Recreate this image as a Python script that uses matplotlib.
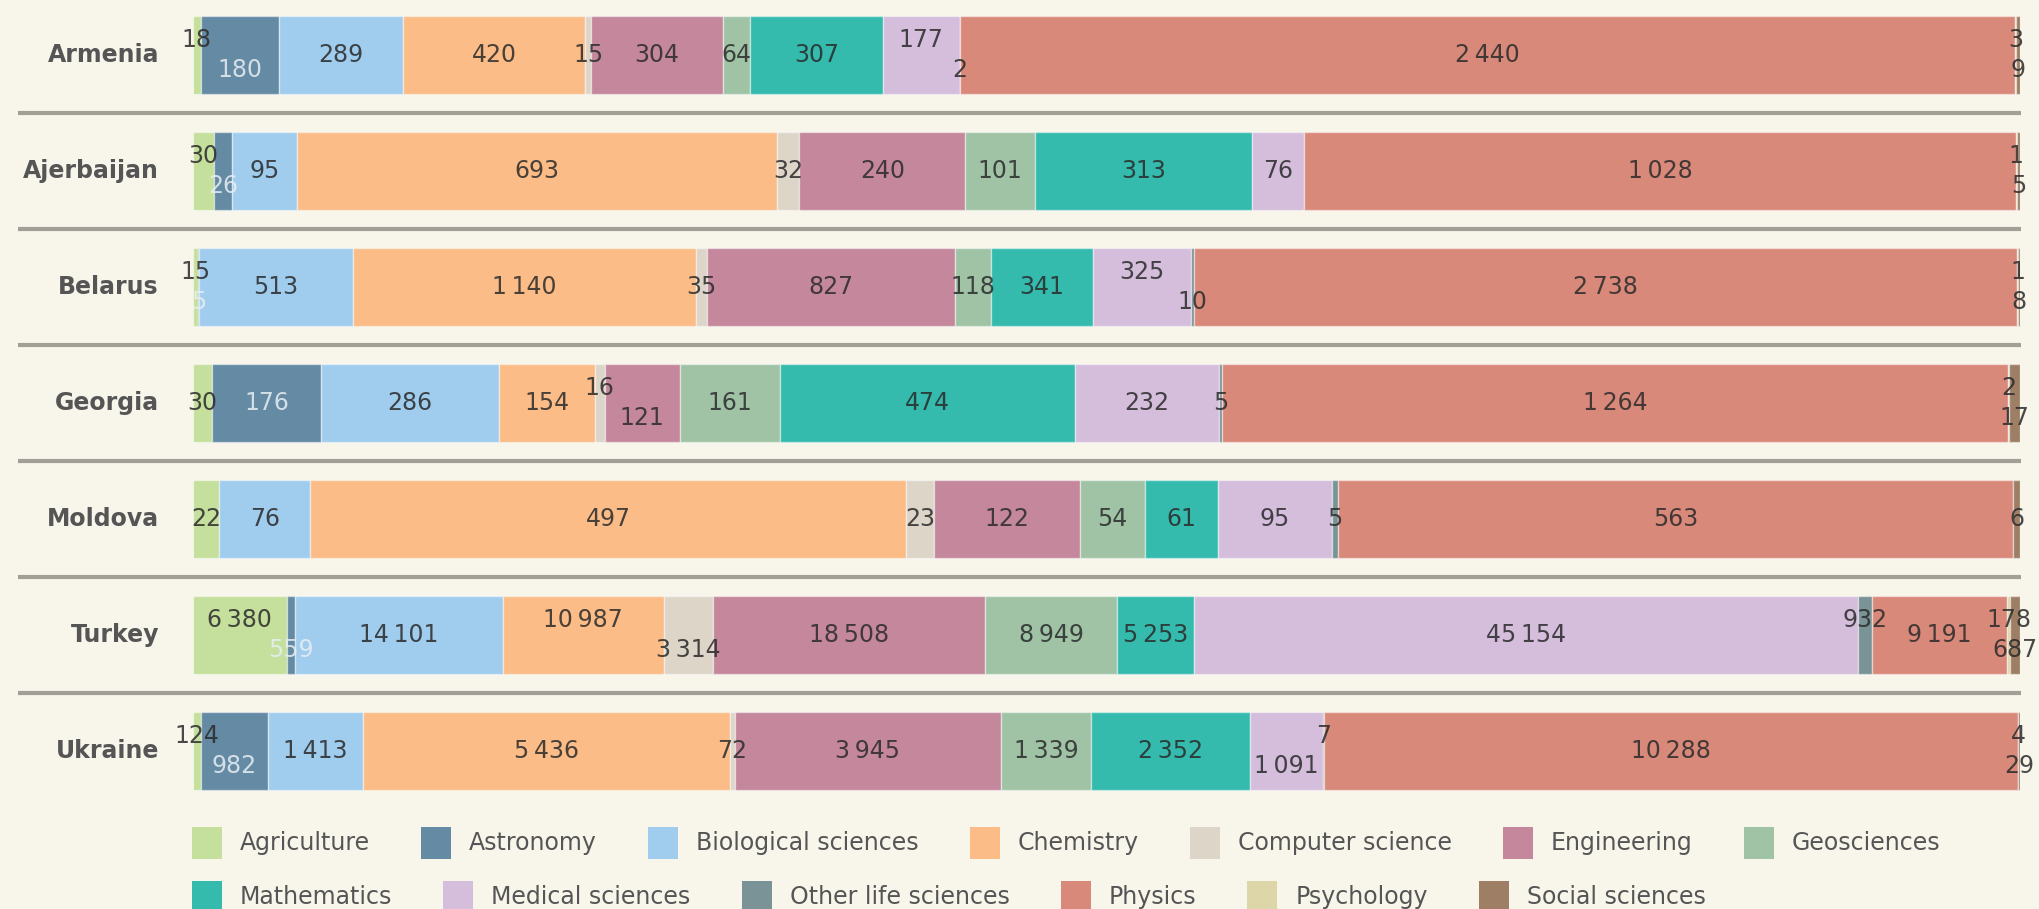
import matplotlib

matplotlib.use("Agg")
import matplotlib.pyplot as plt
import matplotlib.transforms as mtransforms
import numpy as np
from matplotlib.patches import Rectangle


COUNTRIES = ["Armenia", "Ajerbaijan", "Belarus", "Georgia", "Moldova", "Turkey", "Ukraine"]

# values per field, in country order above
AGRICULTURE = [18, 30, 15, 30, 22, 6380, 124]
ASTRONOMY = [180, 26, 5, 176, 0, 559, 982]
BIOLOGICAL = [289, 95, 513, 286, 76, 14101, 1413]
CHEMISTRY = [420, 693, 1140, 154, 497, 10987, 5436]
COMPUTER = [15, 32, 35, 16, 23, 3314, 72]
ENGINEERING = [304, 240, 827, 121, 122, 18508, 3945]
GEOSCIENCES = [64, 101, 118, 161, 54, 8949, 1339]
MATHEMATICS = [307, 313, 341, 474, 61, 5253, 2352]
MEDICAL = [177, 76, 325, 232, 95, 45154, 1091]
OTHER_LIFE = [2, 0, 10, 5, 5, 932, 7]
PHYSICS = [2440, 1028, 2738, 1264, 563, 9191, 10288]
PSYCHOLOGY = [3, 1, 1, 2, 0, 178, 4]
SOCIAL = [9, 5, 8, 17, 6, 687, 29]

FIELD_NAMES = [
    "Agriculture", "Astronomy", "Biological sciences", "Chemistry", "Computer science",
    "Engineering", "Geosciences", "Mathematics", "Medical sciences", "Other life sciences",
    "Physics", "Psychology", "Social sciences",
]

FIELD_COLORS = {
    "Agriculture": "#C5DF9C",
    "Astronomy": "#648AA4",
    "Biological sciences": "#A0CDEE",
    "Chemistry": "#FBBC87",
    "Computer science": "#DCD5C8",
    "Engineering": "#C4879C",
    "Geosciences": "#A0C3A6",
    "Mathematics": "#34BBAD",
    "Medical sciences": "#D4BEDC",
    "Other life sciences": "#7A9396",
    "Physics": "#D9897A",
    "Psychology": "#DDD6A8",
    "Social sciences": "#9E7F65",
}

# hand nudges for crowded labels: +1 = above middle, -1 = below
LABEL_SHIFT = {
    "Armenia": {"Agriculture": 1, "Astronomy": -1, "Medical sciences": 1, "Other life sciences": -1,
                "Psychology": 1, "Social sciences": -1},
    "Ajerbaijan": {"Agriculture": 1, "Astronomy": -1, "Psychology": 1, "Social sciences": -1},
    "Belarus": {"Agriculture": 1, "Astronomy": -1, "Medical sciences": 1, "Other life sciences": -1,
                "Psychology": 1, "Social sciences": -1},
    "Georgia": {"Computer science": 1, "Engineering": -1, "Psychology": 1, "Social sciences": -1},
    "Moldova": {},
    "Turkey": {"Agriculture": 1, "Astronomy": -1, "Chemistry": 1, "Computer science": -1,
               "Other life sciences": 1, "Psychology": 1, "Social sciences": -1},
    "Ukraine": {"Agriculture": 1, "Astronomy": -1, "Medical sciences": -1, "Other life sciences": 1,
                "Psychology": 1, "Social sciences": -1},
}

BG = "#F8F6EB"
FIG_W, FIG_H, DPI = 2039, 909, 100
FONT_SIZE = 17

plt.rcParams["font.family"] = ["DejaVu Sans"]


def fmt(value: float) -> str:
    return f"{int(value):,}".replace(",", "\u2009")


def draw_legend(fig, renderer):
    rows = [FIELD_NAMES[:7], FIELD_NAMES[7:]]
    row_y = [843, 897]
    patch_w, patch_h = 30, 32
    for names, yc in zip(rows, row_y):
        x = 192
        for name in names:
            fig.patches.append(Rectangle(
                (x / FIG_W, 1 - (yc + patch_h / 2) / FIG_H), patch_w / FIG_W, patch_h / FIG_H,
                transform=fig.transFigure, facecolor=FIELD_COLORS[name], edgecolor="none",
            ))
            tx = x + 48
            t = fig.text(tx / FIG_W, 1 - yc / FIG_H, name, ha="left", va="center",
                         fontsize=FONT_SIZE, color="#555555")
            width = t.get_window_extent(renderer).width
            x = tx + width + 51


def main():
    values = np.array([
        AGRICULTURE, ASTRONOMY, BIOLOGICAL, CHEMISTRY, COMPUTER, ENGINEERING, GEOSCIENCES,
        MATHEMATICS, MEDICAL, OTHER_LIFE, PHYSICS, PSYCHOLOGY, SOCIAL,
    ], dtype=float)
    shares = values / values.sum(axis=0)
    lefts = np.vstack([np.zeros(len(COUNTRIES)), np.cumsum(shares, axis=0)[:-1]])

    fig = plt.figure(figsize=(FIG_W / DPI, FIG_H / DPI), dpi=DPI, facecolor=BG)
    ax = fig.add_axes([193 / FIG_W, 1 - 809 / FIG_H, (2020 - 193) / FIG_W, 812 / FIG_H])
    ax.set_facecolor(BG)
    ax.set_xlim(0, 1)
    ax.set_ylim(len(COUNTRIES) - 0.5, -0.5)
    ax.axis("off")

    y = np.arange(len(COUNTRIES))
    for j, name in enumerate(FIELD_NAMES):
        mask = values[j] > 0
        ax.barh(y[mask], shares[j][mask], left=lefts[j][mask], height=0.67,
                color=FIELD_COLORS[name], edgecolor=(1, 1, 1, 0.45), linewidth=1.0)

    for i, country in enumerate(COUNTRIES):
        shifts = LABEL_SHIFT.get(country, {})
        for j, name in enumerate(FIELD_NAMES):
            v = values[j, i]
            if v <= 0:
                continue
            xc = lefts[j, i] + shares[j, i] / 2
            yc = i - 0.13 * shifts.get(name, 0)
            color = "#E8EEF3" if name == "Astronomy" else "#2A2A2A"
            ax.text(xc, yc, fmt(v), ha="center", va="center", fontsize=FONT_SIZE,
                    color=color, alpha=0.85, clip_on=False)

    fig_x = mtransforms.blended_transform_factory(fig.transFigure, ax.transData)
    for i, country in enumerate(COUNTRIES):
        ax.text(159 / FIG_W, i, country, transform=fig_x, ha="right", va="center",
                fontsize=FONT_SIZE, fontweight="bold", color="#555555")
    for i in range(len(COUNTRIES) - 1):
        ax.plot([18 / FIG_W, 2021 / FIG_W], [i + 0.5, i + 0.5], transform=fig_x,
                color="#A29F96", linewidth=3, clip_on=False, solid_capstyle="butt")

    renderer = fig.canvas.get_renderer()
    draw_legend(fig, renderer)

    fig.savefig("out.png", dpi=DPI, facecolor=BG)
    plt.close(fig)


if __name__ == "__main__":
    main()
